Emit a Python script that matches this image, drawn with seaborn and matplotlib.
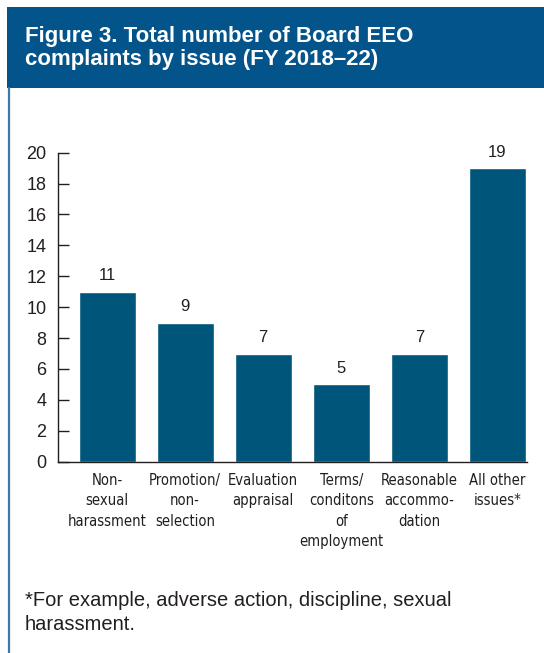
import matplotlib
matplotlib.use("Agg")
import matplotlib.pyplot as plt
import seaborn as sns
import pandas as pd
from matplotlib.patches import Rectangle
from matplotlib.lines import Line2D
from matplotlib import font_manager as fm

categories = ["Non-\nsexual\nharassment", "Promotion/\nnon-\nselection",
              "Evaluation\nappraisal", "Terms/\nconditons\nof\nemployment",
              "Reasonable\naccommo-\ndation", "All other\nissues*"]
values = [11, 9, 7, 5, 7, 19]
yticks = [0, 2, 4, 6, 8, 10, 12, 14, 16, 18, 20]
title = "Figure 3. Total number of Board EEO\ncomplaints by issue (FY 2018\u201322)"
footnote = "*For example, adverse action, discipline, sexual\nharassment."

sns.set_theme(style="white")
plt.rcParams["font.family"] = ["Liberation Sans", "DejaVu Sans"]

# look for an installed narrow / condensed regular face
narrow_path = None
for f in fm.fontManager.ttflist:
    fn = f.fname.lower()
    if ("narrow" in fn or "condensed" in fn) and not any(
            k in fn for k in ("bold", "italic", "oblique")) and "mono" not in fn:
        if narrow_path is None or "liberation" in fn:
            narrow_path = f.fname
if narrow_path:
    tick_fp = fm.FontProperties(fname=narrow_path, size=10.6)
    x_ls = 1.45
else:
    tick_fp = fm.FontProperties(family=["Liberation Sans", "DejaVu Sans"], size=10.8)
    x_ls = 1.56

W, H = 544, 653
fig = plt.figure(figsize=(W / 100, H / 100), dpi=100)
fig.patch.set_facecolor("white")

# banner
fig.patches.append(Rectangle((7.3 / W, 1 - 88 / H), 1 - 7.3 / W, 81.3 / H,
                             transform=fig.transFigure, facecolor="#03548b",
                             edgecolor="none", zorder=0))
fig.lines.append(Line2D([8.8 / W, 8.8 / W], [0, 1 - 88 / H], transform=fig.transFigure,
                        color="#3f78ad", linewidth=1.6))
fig.text(25 / W, 1 - 65 / H, title, color="white", fontsize=16, fontweight="bold",
         va="baseline", ha="left", linespacing=1.1)

ax = fig.add_axes([57.5 / W, 1 - 461.7 / H, (527 - 57.5) / W, (461.7 - 152.7) / H])
df = pd.DataFrame({"issue": categories, "count": values})
sns.barplot(data=df, x="issue", y="count", color="#00557a", saturation=1,
            width=0.73, ax=ax)
ax.set_xlim(-0.635, 5.378)
ax.set_ylim(0, 20)
ax.set_yticks(yticks)
ax.set_xlabel("")
ax.set_ylabel("")
for s in ["top", "right"]:
    ax.spines[s].set_visible(False)
for s in ["left", "bottom"]:
    ax.spines[s].set_color("#231f20")
    ax.spines[s].set_linewidth(1.0)
ax.tick_params(axis="y", direction="in", length=8, width=1, color="#231f20",
               labelsize=13, labelcolor="#231f20", pad=8, left=True)
ax.tick_params(axis="x", length=0, labelcolor="#231f20", pad=8)
for lbl in ax.get_xticklabels():
    lbl.set_fontproperties(tick_fp)
    lbl.set_linespacing(x_ls)
    lbl.set_multialignment("center")
    lbl.set_va("top")
ax.bar_label(ax.containers[0], labels=[str(v) for v in values], padding=6,
             fontsize=12, color="#231f20")

fig.text(25 / W, 1 - 630 / H, footnote, color="#231f20", fontsize=14.5,
         va="baseline", ha="left", linespacing=1.3)

fig.savefig("out.png", dpi=100)
